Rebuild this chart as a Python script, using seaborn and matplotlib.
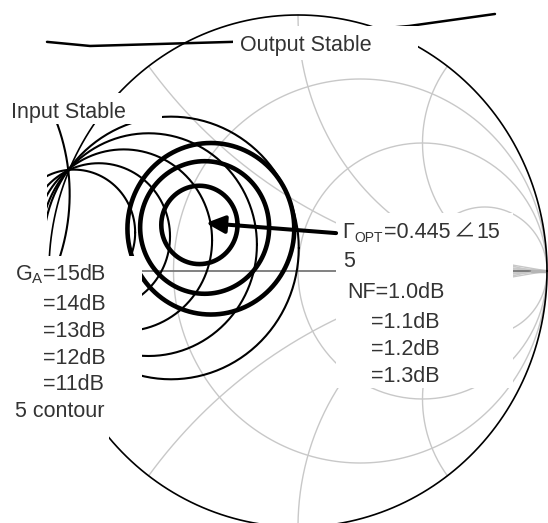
import numpy as np
import matplotlib
matplotlib.use('Agg')
import matplotlib.pyplot as plt
from matplotlib.patches import Rectangle
import seaborn as sns

sns.set_theme(style='white')
plt.rcParams['font.family'] = ['Liberation Sans', 'Noto Sans CJK KR', 'DejaVu Sans']
plt.rcParams['mathtext.fontset'] = 'custom'
plt.rcParams['mathtext.rm'] = 'Liberation Sans'

# smith chart grid values
resistance = [1/3, 1, 3]
reactance = [0.5, 1, 2]
fan_x = [0.863, 0.863, 0.863, 0.863]
fan_y = [0.023, 0.012, -0.012, -0.023]

# available gain contours, centre and radius on the reflection plane
gain_cx = [-0.90, -0.80, -0.70, -0.60, -0.51]
gain_cy = [0.150, 0.135, 0.120, 0.103, 0.090]
gain_r = [0.246, 0.286, 0.355, 0.435, 0.513]

# noise figure contours
nf_cx = [-0.396, -0.375, -0.35]
nf_cy = [0.180, 0.170, 0.165]
nf_r = [0.153, 0.259, 0.335]

# stability
input_c = (-1.697, 0.30)
input_r = 0.78
output_x = [-1.008, -0.835, -0.265, 0.446, 0.791]
output_y = [0.895, 0.879, 0.895, 0.957, 1.004]

# optimum point arrow
arrow_x = [0.153, -0.370]
arrow_y = [0.148, 0.1875]

fig = plt.figure(figsize=(5.48, 5.23), dpi=100)
ax = fig.add_axes([0, 0, 1, 1])
x0, y0, sx, sy = 298, 271, 249, 256
ax.set_xlim(-x0 / sx, (548 - x0) / sx)
ax.set_ylim((y0 - 523) / sy, y0 / sy)
ax.axis('off')


def gx(px):
    return (px - x0) / sx


def gy(py):
    return (y0 - py) / sy


def arc(cx, cy, r, start=0, stop=360, **kw):
    t = np.radians(np.linspace(start, stop, 241))
    sns.lineplot(x=cx + r * np.cos(t), y=cy + r * np.sin(t), sort=False, estimator=None, ax=ax, legend=False, **kw)


grey = '#c8c8c8'
for r in resistance:
    arc(r / (1 + r), 0, 1 / (1 + r), color=grey, lw=1.0)

for v in reactance:
    # only the part inside the unit circle
    a = np.degrees(np.arctan2(2 * v / (v**2 + 1) - 1 / v, (v**2 - 1) / (v**2 + 1) - 1))
    arc(1, 1 / v, 1 / v, start=a % 360, stop=270, color=grey, lw=1.0)
    arc(1, -1 / v, 1 / v, start=-a % 360, stop=90, color=grey, lw=1.0)

# real axis
sns.lineplot(x=[-1, 1], y=[0, 0], sort=False, estimator=None, ax=ax, color='#777777', lw=1.3)
for fx, fy in zip(fan_x, fan_y):
    sns.lineplot(x=[fx, 1.0], y=[fy, 0], sort=False, estimator=None, ax=ax, color=grey, lw=1.0)
sns.lineplot(x=[0.94, 1.0], y=[0, 0], sort=False, estimator=None, ax=ax, color='#b4b4b4', lw=2.5)

for cx, cy, r in zip(gain_cx, gain_cy, gain_r):
    arc(cx, cy, r, color='black', lw=1.5)
arc(input_c[0], input_c[1], input_r, start=-25, stop=25, color='black', lw=1.5)
arc(0, 0, 1, color='black', lw=1.2)

for cx, cy, r in zip(nf_cx, nf_cy, nf_r):
    arc(cx, cy, r, color='black', lw=3.3)

sns.lineplot(x=output_x, y=output_y, sort=False, estimator=None, ax=ax, color='black', lw=1.8)

# white boxes behind the labels
boxes = [(233, 25.5, 185, 34.5), (0, 93, 162, 31), (0, 124, 47, 132),
         (0, 256, 142, 144), (0, 256, 109, 183), (336, 213, 177, 175)]
for bx, by, bw, bh in boxes:
    ax.add_patch(Rectangle((gx(bx), gy(by + bh)), bw / sx, bh / sy, fc='white', ec='none', zorder=5))

ax.annotate('', xy=(arrow_x[1], arrow_y[1]), xytext=(arrow_x[0], arrow_y[0]), zorder=6,
            arrowprops=dict(arrowstyle='-|>,head_length=0.75,head_width=0.35', mutation_scale=15,
                            color='black', lw=2.9, shrinkA=0, shrinkB=0))

txt = dict(color='#333333', fontsize=15.5, zorder=7, va='baseline')
labels = [(240, 51, 'Output Stable'), (11, 118, 'Input Stable'), (15, 280, r'G$_{\mathrm{A}}$=15dB'),
          (43, 310, '=14dB'), (43, 337, '=13dB'), (43, 364, '=12dB'), (43, 390, '=11dB'),
          (15, 417, '5 contour'), (342, 238, 'Γ'), (384, 238, '=0.445'), (454, 238, '∠'), (476, 238, '15'),
          (343, 267, '5'), (347, 298, 'NF=1.0dB'), (371, 328, '=1.1dB'), (371, 355, '=1.2dB'), (371, 382, '=1.3dB')]
for px, py, s in labels:
    ax.text(gx(px), gy(py), s, **txt)
ax.text(gx(354), gy(242), 'OPT', color='#333333', fontsize=10, zorder=7, va='baseline')

fig.savefig('out.png', dpi=100)
